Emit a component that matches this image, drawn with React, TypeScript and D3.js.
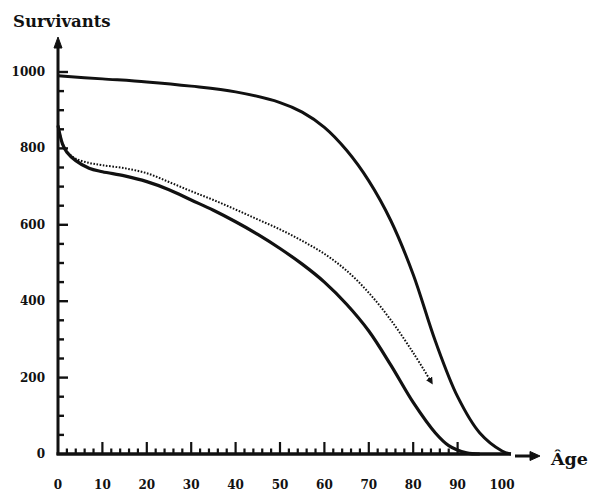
import React, { useRef, useEffect } from "react";
import * as d3 from "d3";

// survivors per 1000
const topCurve: [number, number][] = [
  [0, 990], [10, 982], [20, 974], [30, 963], [40, 948], [50, 920], [55, 895],
  [60, 855], [65, 795], [70, 715], [75, 610], [80, 470], [85, 295], [90, 150],
  [95, 55], [100, 8], [102, 0],
];
const lowerCurve: [number, number][] = [
  [0, 860], [1, 812], [2, 790], [4, 768], [7, 748], [10, 739], [15, 728],
  [20, 713], [25, 692], [30, 665], [35, 638], [40, 608], [45, 575], [50, 538],
  [55, 497], [60, 450], [65, 392], [70, 322], [75, 232], [80, 135], [85, 55],
  [88, 22], [92, 3], [95, 0],
];
const dottedCurve: [number, number][] = [
  [0, 860], [1, 814], [2, 792], [4, 773], [7, 762], [10, 756], [15, 748],
  [20, 735], [25, 712], [30, 688], [35, 665], [40, 640], [45, 614], [50, 588],
  [55, 558], [60, 524], [65, 480], [70, 422], [75, 350], [80, 265], [84, 190],
];
const yLabels = [0, 200, 400, 600, 800, 1000];
const xLabels = [0, 10, 20, 30, 40, 50, 60, 70, 80, 90, 100];

const W = 595;
const H = 499;
const font = "'DejaVu Serif', 'Liberation Serif', serif";

const App: React.FC = () => {
  const svgRef = useRef<SVGSVGElement>(null);

  useEffect(() => {
    if (!svgRef.current) return;
    const svg = d3.select(svgRef.current);
    svg.selectAll("*").remove();

    const x = d3.scaleLinear().domain([0, 100]).range([58, 502]);
    const y = d3.scaleLinear().domain([0, 1000]).range([454, 72]);
    const x0 = x(0);
    const y0 = y(0);

    svg
      .append("defs")
      .append("marker")
      .attr("id", "dotEnd")
      .attr("viewBox", "0 0 10 10")
      .attr("refX", 5)
      .attr("refY", 5)
      .attr("markerWidth", 3.5)
      .attr("markerHeight", 3.5)
      .attr("orient", "auto")
      .attr("markerUnits", "strokeWidth")
      .append("path")
      .attr("d", "M0,0 L10,5 L0,10 z")
      .attr("fill", "#111");

    const axis = svg.append("g").attr("stroke", "#111").attr("fill", "none");

    // y axis with arrow
    axis
      .append("line")
      .attr("x1", x0)
      .attr("x2", x0)
      .attr("y1", y0 + 1)
      .attr("y2", 46)
      .attr("stroke-width", 3);
    axis
      .append("path")
      .attr("d", `M${x0 - 4},48 L${x0},37 L${x0 + 4},48 Z`)
      .attr("fill", "#111")
      .attr("stroke-width", 1);

    // y ticks every 50
    d3.range(50, 1001, 50).forEach((v) => {
      axis
        .append("line")
        .attr("x1", x0)
        .attr("x2", x0 + (v % 200 === 0 ? 10 : 6))
        .attr("y1", y(v))
        .attr("y2", y(v))
        .attr("stroke-width", 2.4);
    });

    // x axis with arrow
    axis
      .append("line")
      .attr("x1", x0 - 1.5)
      .attr("x2", 511)
      .attr("y1", y0)
      .attr("y2", y0)
      .attr("stroke-width", 3.4);
    axis
      .append("line")
      .attr("x1", 515)
      .attr("x2", 532)
      .attr("y1", y0 + 2)
      .attr("y2", y0 + 2)
      .attr("stroke-width", 3);
    axis
      .append("path")
      .attr("d", `M530,${y0 - 2.5} L540,${y0 + 2} L530,${y0 + 6.5} Z`)
      .attr("fill", "#111")
      .attr("stroke-width", 1);

    d3.range(2, 91, 2).forEach((v) => {
      axis
        .append("line")
        .attr("x1", x(v))
        .attr("x2", x(v))
        .attr("y1", y0)
        .attr("y2", y0 - (v % 10 === 0 ? 12 : 5.5))
        .attr("stroke-width", 2.2);
    });

    // labels
    const lab = svg
      .append("g")
      .attr("font-family", font)
      .attr("font-weight", "bold")
      .attr("fill", "#111");

    lab
      .selectAll("text.yl")
      .data(yLabels)
      .join("text")
      .attr("class", "yl")
      .attr("x", 45)
      .attr("y", (d) => y(d) + 4)
      .attr("text-anchor", "end")
      .attr("font-size", 12)
      .text((d) => d);

    lab
      .selectAll("text.xl")
      .data(xLabels)
      .join("text")
      .attr("class", "xl")
      .attr("x", (d) => x(d))
      .attr("y", 489)
      .attr("text-anchor", "middle")
      .attr("font-size", 12)
      .text((d) => d);

    lab
      .append("text")
      .attr("x", 13)
      .attr("y", 27)
      .attr("font-size", 16.5)
      .text("Survivants");

    lab
      .append("text")
      .attr("x", 551)
      .attr("y", 465)
      .attr("font-size", 17.5)
      .text("Âge");

    // curves
    const line = d3
      .line<[number, number]>()
      .x((d) => x(d[0]))
      .y((d) => y(d[1]))
      .curve(d3.curveCatmullRom.alpha(0.5));

    const curves = svg.append("g").attr("fill", "none").attr("stroke", "#111");

    curves
      .append("path")
      .attr("d", line(topCurve))
      .attr("stroke-width", 3);
    curves
      .append("path")
      .attr("d", line(lowerCurve))
      .attr("stroke-width", 3.2);
    curves
      .append("path")
      .attr("d", line(dottedCurve))
      .attr("stroke-width", 2)
      .attr("stroke-dasharray", "1.6 1.6")
      .attr("marker-end", "url(#dotEnd)");
  }, []);

  return (
    <svg
      ref={svgRef}
      width={W}
      height={H}
      style={{ position: "absolute", left: 0, top: 0, background: "#fff" }}
    />
  );
};

export default App;
